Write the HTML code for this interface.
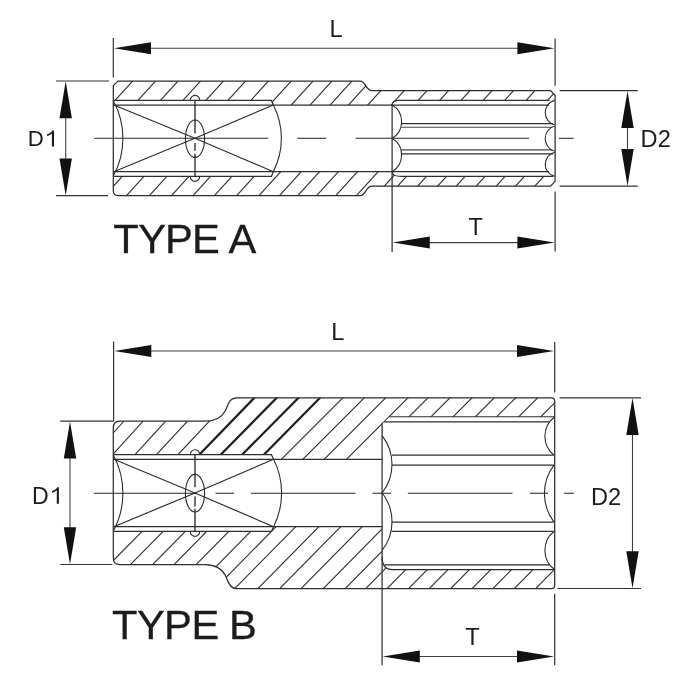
<!DOCTYPE html>
<html lang="en"><head><meta charset="utf-8"><title>Socket types</title>
<style>html,body{margin:0;padding:0;background:#fff;overflow:hidden}svg{display:block;filter:grayscale(1)}text{font-family:"Liberation Sans",sans-serif}</style></head>
<body>
<svg width="700" height="700" viewBox="0 0 700 700" stroke-linecap="butt">
<rect width="700" height="700" fill="#fff"/>
<clipPath id="cAt"><path d="M113.3,85.6 L117.9,81.0 H360.2 C366,81.0 365.5,90.6 372,90.6 H550.6 L555.1,95.6 V100.4 H399 Q392.70000000000005,100.4 392.1,105.0 H273.3 L271.4,100.4 H113.3 Z"/></clipPath>
<clipPath id="cAb"><path d="M113.3,190.4 Q113.3,195.7 118.8,195.7 H360.2 C366,195.7 365.5,186.2 372,186.2 H550.6 L555.1,181.3 V176.4 H401 Q392.70000000000005,176.4 392.1,171.7 H273.3 L271.4,176.4 H113.3 Z"/></clipPath>
<g clip-path="url(#cAt)">
<line x1="150.90" y1="61.00" x2="96.30" y2="121.00" stroke="#333" stroke-width="1.15" />
<line x1="173.80" y1="61.00" x2="119.20" y2="121.00" stroke="#333" stroke-width="1.15" />
<line x1="196.30" y1="61.00" x2="141.70" y2="121.00" stroke="#333" stroke-width="1.15" />
<line x1="218.80" y1="61.00" x2="164.20" y2="121.00" stroke="#333" stroke-width="1.15" />
<line x1="241.70" y1="61.00" x2="187.10" y2="121.00" stroke="#333" stroke-width="1.15" />
<line x1="263.80" y1="61.00" x2="209.20" y2="121.00" stroke="#333" stroke-width="1.15" />
<line x1="286.70" y1="61.00" x2="232.10" y2="121.00" stroke="#333" stroke-width="1.15" />
<line x1="309.50" y1="61.00" x2="254.90" y2="121.00" stroke="#333" stroke-width="1.15" />
<line x1="331.30" y1="61.00" x2="276.70" y2="121.00" stroke="#333" stroke-width="1.15" />
<line x1="350.20" y1="61.00" x2="295.60" y2="121.00" stroke="#333" stroke-width="1.15" />
<line x1="370.20" y1="61.00" x2="315.60" y2="121.00" stroke="#333" stroke-width="1.15" />
<line x1="388.50" y1="61.00" x2="333.90" y2="121.00" stroke="#333" stroke-width="1.15" />
<line x1="407.80" y1="61.00" x2="353.20" y2="121.00" stroke="#333" stroke-width="1.15" />
<line x1="431.20" y1="61.00" x2="376.60" y2="121.00" stroke="#333" stroke-width="1.15" />
<line x1="454.00" y1="61.00" x2="399.40" y2="121.00" stroke="#333" stroke-width="1.15" />
<line x1="475.50" y1="61.00" x2="420.90" y2="121.00" stroke="#333" stroke-width="1.15" />
<line x1="496.90" y1="61.00" x2="442.30" y2="121.00" stroke="#333" stroke-width="1.15" />
<line x1="519.00" y1="61.00" x2="464.40" y2="121.00" stroke="#333" stroke-width="1.15" />
<line x1="540.50" y1="61.00" x2="485.90" y2="121.00" stroke="#333" stroke-width="1.15" />
<line x1="561.90" y1="61.00" x2="507.30" y2="121.00" stroke="#333" stroke-width="1.15" />
<line x1="583.30" y1="61.00" x2="528.70" y2="121.00" stroke="#333" stroke-width="1.15" />
</g>
<g clip-path="url(#cAb)">
<line x1="86.50" y1="215.70" x2="141.10" y2="155.70" stroke="#333" stroke-width="1.15" />
<line x1="108.20" y1="215.70" x2="162.80" y2="155.70" stroke="#333" stroke-width="1.15" />
<line x1="131.10" y1="215.70" x2="185.70" y2="155.70" stroke="#333" stroke-width="1.15" />
<line x1="153.20" y1="215.70" x2="207.80" y2="155.70" stroke="#333" stroke-width="1.15" />
<line x1="174.70" y1="215.70" x2="229.30" y2="155.70" stroke="#333" stroke-width="1.15" />
<line x1="196.10" y1="215.70" x2="250.70" y2="155.70" stroke="#333" stroke-width="1.15" />
<line x1="218.40" y1="215.70" x2="273.00" y2="155.70" stroke="#333" stroke-width="1.15" />
<line x1="240.70" y1="215.70" x2="295.30" y2="155.70" stroke="#333" stroke-width="1.15" />
<line x1="261.20" y1="215.70" x2="315.80" y2="155.70" stroke="#333" stroke-width="1.15" />
<line x1="279.50" y1="215.70" x2="334.10" y2="155.70" stroke="#333" stroke-width="1.15" />
<line x1="298.30" y1="215.70" x2="352.90" y2="155.70" stroke="#333" stroke-width="1.15" />
<line x1="317.50" y1="215.70" x2="372.10" y2="155.70" stroke="#333" stroke-width="1.15" />
<line x1="338.10" y1="215.70" x2="392.70" y2="155.70" stroke="#333" stroke-width="1.15" />
<line x1="357.40" y1="215.70" x2="412.00" y2="155.70" stroke="#333" stroke-width="1.15" />
<line x1="370.70" y1="215.70" x2="425.30" y2="155.70" stroke="#333" stroke-width="1.15" />
<line x1="390.70" y1="215.70" x2="445.30" y2="155.70" stroke="#333" stroke-width="1.15" />
<line x1="410.70" y1="215.70" x2="465.30" y2="155.70" stroke="#333" stroke-width="1.15" />
<line x1="429.30" y1="215.70" x2="483.90" y2="155.70" stroke="#333" stroke-width="1.15" />
<line x1="449.30" y1="215.70" x2="503.90" y2="155.70" stroke="#333" stroke-width="1.15" />
<line x1="469.30" y1="215.70" x2="523.90" y2="155.70" stroke="#333" stroke-width="1.15" />
<line x1="488.60" y1="215.70" x2="543.20" y2="155.70" stroke="#333" stroke-width="1.15" />
<line x1="507.90" y1="215.70" x2="562.50" y2="155.70" stroke="#333" stroke-width="1.15" />
</g>
<path d="M113.3,85.6 L117.9,81.0 H360.2 C366,81.0 365.5,90.6 372,90.6 H550.6 L555.1,95.6 V181.3 L550.6,186.2 H372 C365.5,186.2 366,195.7 360.2,195.7 H118.8 Q113.3,195.7 113.3,190.4 Z" stroke="#2e2e2e" stroke-width="1.25" fill="none" />
<path d="M113.3,100.4 H271.4 L273.3,105.0" stroke="#2e2e2e" stroke-width="1.25" fill="none" />
<path d="M113.3,105.0 H549" stroke="#2e2e2e" stroke-width="1.25" fill="none" />
<path d="M113.3,176.4 H271.4 L273.3,171.7" stroke="#2e2e2e" stroke-width="1.25" fill="none" />
<path d="M113.3,171.7 H549" stroke="#2e2e2e" stroke-width="1.25" fill="none" />
<path d="M392.1,105.0 Q392.70000000000005,100.4 399,100.4 H549.5" stroke="#2e2e2e" stroke-width="1.1" fill="none" />
<path d="M392.1,171.7 Q392.70000000000005,176.4 401,176.4 H553" stroke="#2e2e2e" stroke-width="1.1" fill="none" />
<path d="M113.30,100.70 A78.83,78.83 0 0 1 113.30,176.10" stroke="#2e2e2e" stroke-width="1.1" fill="none" />
<path d="M113.8,105.0 L195,138.3 L273.3,171.7" stroke="#2e2e2e" stroke-width="1.2" fill="none" stroke-linejoin="round"/>
<path d="M113.8,171.7 L195,138.3 L273.3,105.0" stroke="#2e2e2e" stroke-width="1.2" fill="none" stroke-linejoin="round"/>
<path d="M273.30,105.00 A72.71,72.71 0 0 1 273.30,171.70" stroke="#2e2e2e" stroke-width="1.1" fill="none" />
<ellipse cx="195" cy="138.70000000000002" rx="9.6" ry="18.7" fill="none" stroke="#2e2e2e" stroke-width="1.1"/>
<line x1="195.00" y1="100.40" x2="195.00" y2="133.60" stroke="#222" stroke-width="1.3" />
<line x1="195.00" y1="142.90" x2="195.00" y2="150.70" stroke="#222" stroke-width="1.3" />
<line x1="195.00" y1="153.80" x2="195.00" y2="176.40" stroke="#222" stroke-width="1.3" />
<path d="M190.3,100.4 A4.7,5 0 0 1 199.7,100.4" stroke="#2e2e2e" stroke-width="1.1" fill="none" />
<path d="M190.3,176.4 A4.7,5 0 0 0 199.7,176.4" stroke="#2e2e2e" stroke-width="1.1" fill="none" />
<line x1="392.10" y1="105.00" x2="392.10" y2="252.10" stroke="#2e2e2e" stroke-width="1.25" />
<path d="M392.10,105.00 A19.34,19.34 0 0 1 392.10,138.30" stroke="#2e2e2e" stroke-width="1.1" fill="none" />
<path d="M392.10,138.30 A19.43,19.43 0 0 1 392.10,171.70" stroke="#2e2e2e" stroke-width="1.1" fill="none" />
<line x1="401.40" y1="123.70" x2="553.00" y2="123.70" stroke="#2e2e2e" stroke-width="1.25" />
<line x1="401.40" y1="127.30" x2="552.00" y2="127.30" stroke="#444" stroke-width="1.1" />
<line x1="401.40" y1="149.90" x2="552.00" y2="149.90" stroke="#444" stroke-width="1.1" />
<line x1="401.40" y1="153.90" x2="553.00" y2="153.90" stroke="#2e2e2e" stroke-width="1.25" />
<path d="M554.60,100.40 A12.62,12.62 0 0 0 554.60,124.80" stroke="#2e2e2e" stroke-width="1.1" fill="none" />
<path d="M554.60,126.00 A13.14,13.14 0 0 0 554.60,151.20" stroke="#2e2e2e" stroke-width="1.1" fill="none" />
<path d="M554.60,152.40 A12.36,12.36 0 0 0 554.60,176.40" stroke="#2e2e2e" stroke-width="1.1" fill="none" />
<line x1="94.20" y1="138.30" x2="268.20" y2="138.30" stroke="#2a2a2a" stroke-width="1.05" />
<line x1="297.40" y1="138.30" x2="326.20" y2="138.30" stroke="#2a2a2a" stroke-width="1.05" />
<line x1="355.60" y1="138.30" x2="529.00" y2="138.30" stroke="#2a2a2a" stroke-width="1.05" />
<line x1="558.80" y1="138.30" x2="573.60" y2="138.30" stroke="#2a2a2a" stroke-width="1.05" />
<line x1="113.30" y1="38.00" x2="113.30" y2="77.40" stroke="#333" stroke-width="1.2" />
<line x1="555.10" y1="38.60" x2="555.10" y2="85.80" stroke="#333" stroke-width="1.2" />
<line x1="150.00" y1="48.20" x2="518.00" y2="48.20" stroke="#404040" stroke-width="1.1" />
<polygon points="114.00,48.20 151.00,42.20 151.00,54.20" fill="#111"/>
<polygon points="554.40,48.20 517.40,42.20 517.40,54.20" fill="#111"/>
<text x="329.40" y="36.70" font-size="23.6" text-anchor="start" fill="#1c1c1c" >L</text>
<line x1="56.00" y1="81.00" x2="109.00" y2="81.00" stroke="#333" stroke-width="1.2" />
<line x1="56.00" y1="195.70" x2="108.00" y2="195.70" stroke="#333" stroke-width="1.2" />
<line x1="65.70" y1="117.00" x2="65.70" y2="160.00" stroke="#404040" stroke-width="1.1" />
<polygon points="65.70,81.30 59.50,118.30 71.90,118.30" fill="#111"/>
<polygon points="65.70,195.40 59.50,158.40 71.90,158.40" fill="#111"/>
<text x="27.85" y="146.40" font-size="22.2" text-anchor="start" fill="#1c1c1c" >D</text>
<path d="M54.00,146.40 V130.60 H52.35 C51.70,132.50 49.30,133.70 47.10,134.30 V136.20 C49.10,135.60 50.90,134.60 51.90,133.60 V146.40 Z" fill="#1c1c1c"/>
<line x1="559.60" y1="90.60" x2="637.80" y2="90.60" stroke="#333" stroke-width="1.2" />
<line x1="559.60" y1="186.20" x2="637.80" y2="186.20" stroke="#333" stroke-width="1.2" />
<line x1="627.50" y1="127.00" x2="627.50" y2="150.00" stroke="#404040" stroke-width="1.1" />
<polygon points="627.50,90.90 621.30,127.90 633.70,127.90" fill="#111"/>
<polygon points="627.50,185.90 621.30,148.90 633.70,148.90" fill="#111"/>
<text x="640.60" y="146.80" font-size="23.6" text-anchor="start" fill="#1c1c1c" >D2</text>
<line x1="555.10" y1="191.40" x2="555.10" y2="251.60" stroke="#333" stroke-width="1.2" />
<line x1="429.00" y1="242.60" x2="518.00" y2="242.60" stroke="#404040" stroke-width="1.1" />
<polygon points="392.80,242.60 429.80,236.60 429.80,248.60" fill="#111"/>
<polygon points="554.40,242.60 517.40,236.60 517.40,248.60" fill="#111"/>
<text x="468.40" y="234.90" font-size="23.6" text-anchor="start" fill="#1c1c1c" >T</text>
<text transform="translate(113.32,252.60) scale(1.035,1)" font-size="40.3" fill="#1c1c1c" stroke="#1c1c1c" stroke-width="0.3">T</text>
<text transform="translate(138.35,252.60) scale(1.035,1)" font-size="40.3" fill="#1c1c1c" stroke="#1c1c1c" stroke-width="0.3">Y</text>
<text transform="translate(165.05,252.60) scale(1.035,1)" font-size="40.3" fill="#1c1c1c" stroke="#1c1c1c" stroke-width="0.3">P</text>
<text transform="translate(192.05,252.60) scale(1.035,1)" font-size="40.3" fill="#1c1c1c" stroke="#1c1c1c" stroke-width="0.3">E</text>
<text transform="translate(228.38,252.60) scale(1.035,1)" font-size="40.3" fill="#1c1c1c" stroke="#1c1c1c" stroke-width="0.3">A</text>
<clipPath id="cBt"><path d="M113.3,428 Q113.3,421.2 119.6,421.2 H205 C213,421.2 221,419 225.5,410.5 C228.3,404 229.5,397.8 236.8,397.8 H551.4 Q554.7,397.8 554.7,401.2 V416.7 H389.6 L382.1,424.2 V459.3 H273.6 L271.4,454.7 H113.3 Z"/></clipPath>
<clipPath id="cBb"><path d="M113.3,558 Q113.3,564.5 119.6,564.5 H205 C213,564.5 221,567 225.5,575.5 C228.3,582 229.5,588.5 236.8,588.5 H551.4 Q554.7,588.5 554.7,585.2 V569.6 H392 Q382.1,569.6 382.1,558 V526.7 H273.6 L271.4,531.4 H113.3 Z"/></clipPath>
<clipPath id="cBt2"><rect x="382.1" y="390" width="180" height="40"/></clipPath>
<g clip-path="url(#cBt)">
<line x1="153.90" y1="387.80" x2="84.70" y2="464.70" stroke="#333" stroke-width="1.15" />
<line x1="173.27" y1="387.80" x2="103.53" y2="464.70" stroke="#333" stroke-width="1.15" />
<line x1="196.14" y1="387.80" x2="125.86" y2="464.70" stroke="#333" stroke-width="1.15" />
<line x1="218.48" y1="387.80" x2="147.12" y2="464.70" stroke="#333" stroke-width="1.15" />
<line x1="240.68" y1="387.80" x2="168.52" y2="464.70" stroke="#333" stroke-width="1.15" />
<line x1="263.97" y1="387.80" x2="189.63" y2="464.70" stroke="#1e1e1e" stroke-width="2.2" />
<line x1="286.54" y1="387.80" x2="210.86" y2="464.70" stroke="#1e1e1e" stroke-width="2.2" />
<line x1="308.41" y1="387.80" x2="232.19" y2="464.70" stroke="#1e1e1e" stroke-width="2.2" />
<line x1="329.86" y1="387.80" x2="254.04" y2="464.70" stroke="#1e1e1e" stroke-width="2.2" />
<line x1="352.90" y1="387.80" x2="276.00" y2="464.70" stroke="#333" stroke-width="1.15" />
<line x1="374.30" y1="387.80" x2="297.40" y2="464.70" stroke="#333" stroke-width="1.15" />
<line x1="395.70" y1="387.80" x2="318.80" y2="464.70" stroke="#333" stroke-width="1.15" />
<line x1="418.00" y1="387.80" x2="341.10" y2="464.70" stroke="#333" stroke-width="1.15" />
<line x1="438.00" y1="387.80" x2="361.10" y2="464.70" stroke="#333" stroke-width="1.15" clip-path="url(#cBt2)"/>
<line x1="460.00" y1="387.80" x2="383.10" y2="464.70" stroke="#333" stroke-width="1.15" clip-path="url(#cBt2)"/>
<line x1="482.10" y1="387.80" x2="405.20" y2="464.70" stroke="#333" stroke-width="1.15" clip-path="url(#cBt2)"/>
<line x1="504.30" y1="387.80" x2="427.40" y2="464.70" stroke="#333" stroke-width="1.15" clip-path="url(#cBt2)"/>
<line x1="525.70" y1="387.80" x2="448.80" y2="464.70" stroke="#333" stroke-width="1.15" clip-path="url(#cBt2)"/>
<line x1="547.70" y1="387.80" x2="470.80" y2="464.70" stroke="#333" stroke-width="1.15" clip-path="url(#cBt2)"/>
<line x1="569.70" y1="387.80" x2="492.80" y2="464.70" stroke="#333" stroke-width="1.15" clip-path="url(#cBt2)"/>
</g>
<g clip-path="url(#cBb)">
<line x1="74.53" y1="600.00" x2="158.25" y2="515.00" stroke="#333" stroke-width="1.15" />
<line x1="95.54" y1="600.00" x2="179.26" y2="515.00" stroke="#333" stroke-width="1.15" />
<line x1="117.74" y1="600.00" x2="201.46" y2="515.00" stroke="#333" stroke-width="1.15" />
<line x1="139.14" y1="600.00" x2="222.86" y2="515.00" stroke="#333" stroke-width="1.15" />
<line x1="161.24" y1="600.00" x2="244.96" y2="515.00" stroke="#333" stroke-width="1.15" />
<line x1="183.13" y1="600.00" x2="266.85" y2="515.00" stroke="#333" stroke-width="1.15" />
<line x1="203.83" y1="600.00" x2="287.55" y2="515.00" stroke="#333" stroke-width="1.15" />
<line x1="223.48" y1="600.00" x2="307.20" y2="515.00" stroke="#333" stroke-width="1.15" />
<line x1="246.67" y1="600.00" x2="330.40" y2="515.00" stroke="#333" stroke-width="1.15" />
<line x1="268.48" y1="600.00" x2="352.20" y2="515.00" stroke="#333" stroke-width="1.15" />
<line x1="289.88" y1="600.00" x2="373.60" y2="515.00" stroke="#333" stroke-width="1.15" />
<line x1="312.08" y1="600.00" x2="395.80" y2="515.00" stroke="#333" stroke-width="1.15" />
<line x1="333.97" y1="600.00" x2="417.70" y2="515.00" stroke="#333" stroke-width="1.15" />
<line x1="354.47" y1="600.00" x2="438.20" y2="515.00" stroke="#333" stroke-width="1.15" />
<line x1="375.87" y1="600.00" x2="459.60" y2="515.00" stroke="#333" stroke-width="1.15" />
<line x1="397.37" y1="600.00" x2="481.10" y2="515.00" stroke="#333" stroke-width="1.15" />
<line x1="418.07" y1="600.00" x2="501.80" y2="515.00" stroke="#333" stroke-width="1.15" />
<line x1="439.47" y1="600.00" x2="523.20" y2="515.00" stroke="#333" stroke-width="1.15" />
<line x1="460.87" y1="600.00" x2="544.60" y2="515.00" stroke="#333" stroke-width="1.15" />
<line x1="481.67" y1="600.00" x2="565.40" y2="515.00" stroke="#333" stroke-width="1.15" />
<line x1="503.07" y1="600.00" x2="586.80" y2="515.00" stroke="#333" stroke-width="1.15" />
<line x1="524.47" y1="600.00" x2="608.20" y2="515.00" stroke="#333" stroke-width="1.15" />
</g>
<path d="M113.3,428 Q113.3,421.2 119.6,421.2 H205 C213,421.2 221,419 225.5,410.5 C228.3,404 229.5,397.8 236.8,397.8 H551.4 Q554.7,397.8 554.7,401.2 V585.2 Q554.7,588.5 551.4,588.5 H236.8 C229.5,588.5 228.3,582 225.5,575.5 C221,567 213,564.5 205,564.5 H119.6 Q113.3,564.5 113.3,558 Z" stroke="#2e2e2e" stroke-width="1.25" fill="none" />
<path d="M113.3,454.7 H271.4 L273.6,459.3" stroke="#2e2e2e" stroke-width="1.25" fill="none" />
<path d="M113.3,459.3 H382.1" stroke="#2e2e2e" stroke-width="1.25" fill="none" />
<path d="M113.3,531.4 H271.4 L273.6,526.7" stroke="#2e2e2e" stroke-width="1.25" fill="none" />
<path d="M113.3,526.7 H382.1" stroke="#2e2e2e" stroke-width="1.25" fill="none" />
<path d="M113.30,455.00 A80.21,80.21 0 0 1 113.30,531.10" stroke="#2e2e2e" stroke-width="1.1" fill="none" />
<path d="M113.8,459.3 L195,493.0 L273.6,526.7" stroke="#2e2e2e" stroke-width="1.2" fill="none" stroke-linejoin="round"/>
<path d="M113.8,526.7 L195,493.0 L273.6,459.3" stroke="#2e2e2e" stroke-width="1.2" fill="none" stroke-linejoin="round"/>
<path d="M273.60,459.30 A74.98,74.98 0 0 1 273.60,526.70" stroke="#2e2e2e" stroke-width="1.1" fill="none" />
<ellipse cx="195" cy="493.2" rx="9.6" ry="18.8" fill="none" stroke="#2e2e2e" stroke-width="1.1"/>
<line x1="195.00" y1="454.70" x2="195.00" y2="487.30" stroke="#222" stroke-width="1.3" />
<line x1="195.00" y1="496.60" x2="195.00" y2="506.40" stroke="#222" stroke-width="1.3" />
<line x1="195.00" y1="508.80" x2="195.00" y2="531.40" stroke="#222" stroke-width="1.3" />
<path d="M190.3,454.7 A4.7,5 0 0 1 199.7,454.7" stroke="#2e2e2e" stroke-width="1.1" fill="none" />
<path d="M190.3,531.4 A4.7,5 0 0 0 199.7,531.4" stroke="#2e2e2e" stroke-width="1.1" fill="none" />
<line x1="382.10" y1="423.50" x2="382.10" y2="665.20" stroke="#2e2e2e" stroke-width="1.25" />
<path d="M389.2,416.7 H554.7" stroke="#2e2e2e" stroke-width="1.1" fill="none" />
<path d="M384.1,421.9 H549.6" stroke="#2e2e2e" stroke-width="1.25" fill="none" />
<path d="M382.1,557 Q382.1,569.6 392.5,569.6 H554.7" stroke="#2e2e2e" stroke-width="1.25" fill="none" />
<path d="M384.5,564.9 H550" stroke="#262626" stroke-width="1.15" fill="none" />
<path d="M382.10,435.60 A46.55,46.55 0 0 1 382.10,493.00" stroke="#2e2e2e" stroke-width="1.1" fill="none" />
<path d="M382.10,493.00 A46.55,46.55 0 0 1 382.10,550.40" stroke="#2e2e2e" stroke-width="1.1" fill="none" />
<line x1="392.00" y1="455.00" x2="553.50" y2="455.00" stroke="#2e2e2e" stroke-width="1.25" />
<line x1="392.00" y1="465.00" x2="553.50" y2="465.00" stroke="#2e2e2e" stroke-width="1.25" />
<line x1="392.00" y1="522.10" x2="553.50" y2="522.10" stroke="#2e2e2e" stroke-width="1.25" />
<line x1="392.00" y1="531.40" x2="553.50" y2="531.40" stroke="#2e2e2e" stroke-width="1.25" />
<path d="M554.20,417.20 A24.16,24.16 0 0 0 554.20,455.30" stroke="#2e2e2e" stroke-width="1.1" fill="none" />
<path d="M554.20,464.80 A47.07,47.07 0 0 0 554.20,522.30" stroke="#2e2e2e" stroke-width="1.1" fill="none" />
<path d="M554.20,531.20 A24.06,24.06 0 0 0 554.20,569.20" stroke="#2e2e2e" stroke-width="1.1" fill="none" />
<line x1="93.70" y1="493.25" x2="196.50" y2="493.25" stroke="#2a2a2a" stroke-width="1.05" />
<line x1="215.50" y1="493.25" x2="234.20" y2="493.25" stroke="#2a2a2a" stroke-width="1.05" />
<line x1="250.80" y1="493.25" x2="355.50" y2="493.25" stroke="#2a2a2a" stroke-width="1.05" />
<line x1="372.50" y1="493.25" x2="391.00" y2="493.25" stroke="#2a2a2a" stroke-width="1.05" />
<line x1="407.80" y1="493.25" x2="512.50" y2="493.25" stroke="#2a2a2a" stroke-width="1.05" />
<line x1="529.80" y1="493.25" x2="548.00" y2="493.25" stroke="#2a2a2a" stroke-width="1.05" />
<line x1="564.00" y1="493.25" x2="573.80" y2="493.25" stroke="#2a2a2a" stroke-width="1.05" />
<line x1="113.60" y1="341.40" x2="113.60" y2="421.20" stroke="#333" stroke-width="1.2" />
<line x1="554.70" y1="342.10" x2="554.70" y2="392.60" stroke="#333" stroke-width="1.2" />
<line x1="150.00" y1="351.00" x2="518.00" y2="351.00" stroke="#404040" stroke-width="1.1" />
<polygon points="114.30,351.00 151.30,345.00 151.30,357.00" fill="#111"/>
<polygon points="554.00,351.00 517.00,345.00 517.00,357.00" fill="#111"/>
<text x="331.20" y="339.70" font-size="23.6" text-anchor="start" fill="#1c1c1c" >L</text>
<line x1="60.20" y1="421.20" x2="113.60" y2="421.20" stroke="#333" stroke-width="1.2" />
<line x1="60.20" y1="564.50" x2="112.40" y2="564.50" stroke="#333" stroke-width="1.2" />
<line x1="70.00" y1="457.00" x2="70.00" y2="528.00" stroke="#404040" stroke-width="1.1" />
<polygon points="70.00,421.50 63.80,458.50 76.20,458.50" fill="#111"/>
<polygon points="70.00,564.20 63.80,527.20 76.20,527.20" fill="#111"/>
<text x="32.00" y="503.70" font-size="23.1" text-anchor="start" fill="#1c1c1c" >D</text>
<path d="M58.90,503.70 V487.20 H57.25 C56.60,489.10 54.20,490.30 52.00,490.90 V492.80 C54.00,492.20 55.80,491.20 56.80,490.20 V503.70 Z" fill="#1c1c1c"/>
<line x1="559.60" y1="397.80" x2="641.00" y2="397.80" stroke="#333" stroke-width="1.2" />
<line x1="557.40" y1="588.50" x2="641.00" y2="588.50" stroke="#333" stroke-width="1.2" />
<line x1="632.50" y1="434.00" x2="632.50" y2="553.00" stroke="#404040" stroke-width="1.1" />
<polygon points="632.50,398.10 626.30,435.10 638.70,435.10" fill="#111"/>
<polygon points="632.50,588.20 626.30,551.20 638.70,551.20" fill="#111"/>
<text x="591.00" y="505.40" font-size="23.6" text-anchor="start" fill="#1c1c1c" >D2</text>
<line x1="554.70" y1="593.80" x2="554.70" y2="665.20" stroke="#333" stroke-width="1.2" />
<line x1="419.00" y1="656.50" x2="518.00" y2="656.50" stroke="#404040" stroke-width="1.1" />
<polygon points="382.80,656.50 419.80,650.50 419.80,662.50" fill="#111"/>
<polygon points="554.00,656.50 517.00,650.50 517.00,662.50" fill="#111"/>
<text x="465.30" y="645.40" font-size="23.6" text-anchor="start" fill="#1c1c1c" >T</text>
<text transform="translate(111.92,639.40) scale(1.035,1)" font-size="40.3" fill="#1c1c1c" stroke="#1c1c1c" stroke-width="0.3">T</text>
<text transform="translate(137.05,639.40) scale(1.035,1)" font-size="40.3" fill="#1c1c1c" stroke="#1c1c1c" stroke-width="0.3">Y</text>
<text transform="translate(164.05,639.40) scale(1.035,1)" font-size="40.3" fill="#1c1c1c" stroke="#1c1c1c" stroke-width="0.3">P</text>
<text transform="translate(191.45,639.40) scale(1.035,1)" font-size="40.3" fill="#1c1c1c" stroke="#1c1c1c" stroke-width="0.3">E</text>
<text transform="translate(229.05,639.40) scale(1.035,1)" font-size="40.3" fill="#1c1c1c" stroke="#1c1c1c" stroke-width="0.3">B</text>
</svg>
</body></html>
